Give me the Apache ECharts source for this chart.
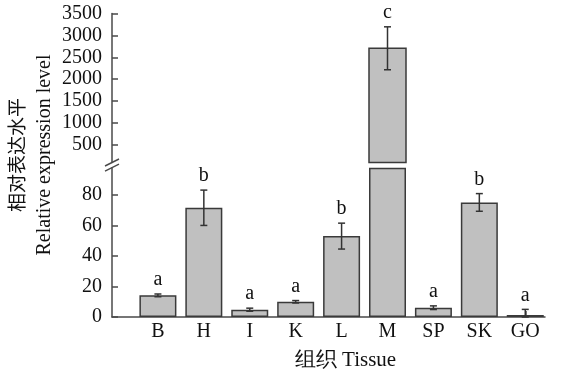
<!DOCTYPE html>
<html>
<head>
<meta charset="utf-8">
<script src="https://cdn.jsdelivr.net/npm/echarts@6/dist/echarts.min.js"></script>
<style>
  html, body { margin: 0; padding: 0; background: #fff; }
  #chart { width: 564px; height: 378px; }
</style>
</head>
<body>
<div id="chart"></div>
<script>
// tissues and mean relative expression
const categories = ['B', 'H', 'I', 'K', 'L', 'M', 'SP', 'SK', 'GO'];
const values = [14.2, 71.7, 4.8, 10.0, 53.1, 2706, 6.1, 75.2, 1.3];
const errors = [0.9, 11.6, 1.0, 0.8, 8.5, 490, 1.2, 5.8, 3.7];
const letters = ['a', 'b', 'a', 'a', 'b', 'c', 'a', 'b', 'a'];
const upperTicks = [500, 1000, 1500, 2000, 2500, 3000, 3500];
const lowerTicks = [0, 20, 40, 60, 80];

// broken y axis: lower part 0..98, upper part 100..3500
const LOW_MAX = 98;
const UP_MIN = 100;
const UP_MAX = 3500;

const AXIS_X = 112;
const GRID_W = 433;
const UP_TOP = 13.5, UP_H = 149;
const LOW_TOP = 167.7, LOW_H = 149.3;
const BAR_W = 37;

const font = '"Liberation Serif", "Times New Roman", serif';
const axisColor = '#4a4a4a';
const barFill = '#c0c0c0';
const barBorder = '#3a3a3a';

const xs = categories.map((c, i) => i + 1);

const chart = echarts.init(document.getElementById('chart'));

function errorItem(params, api) {
  const x = api.value(0);
  const m = api.value(1);
  const e = api.value(2);
  const top = api.coord([x, m + e]);
  const bot = api.coord([x, Math.max(m - e, 0)]);
  const cap = 3.5;
  const style = { stroke: '#333', lineWidth: 1.5 };
  return {
    type: 'group',
    children: [
      { type: 'line', shape: { x1: top[0], y1: top[1], x2: bot[0], y2: bot[1] }, style },
      { type: 'line', shape: { x1: top[0] - cap, y1: top[1], x2: top[0] + cap, y2: top[1] }, style },
      { type: 'line', shape: { x1: bot[0] - cap, y1: bot[1], x2: bot[0] + cap, y2: bot[1] }, style },
      {
        type: 'text',
        x: top[0], y: top[1] - 14,
        style: {
          text: letters[x - 1], fill: '#111', font: '20px ' + font,
          align: 'center', verticalAlign: 'middle'
        }
      }
    ]
  };
}

// upper segment of a broken bar: from the break (UP_MIN) to the value
function upperBar(params, api) {
  const x = api.value(0);
  const lo = api.coord([x, UP_MIN]);
  const hi = api.coord([x, api.value(1)]);
  return {
    type: 'rect',
    shape: { x: lo[0] - BAR_W / 2, y: hi[1], width: BAR_W, height: lo[1] - hi[1] },
    style: { fill: barFill, stroke: barBorder, lineWidth: 1.5 }
  };
}

const isUpper = i => values[i] > LOW_MAX;

const baseX = {
  type: 'value', min: 0, max: 9.43,
  splitLine: { show: false }
};

const tickLabel = { margin: 10, color: '#111', fontSize: 20, fontFamily: font, formatter: v => String(v) };

const option = {
  animation: false,
  backgroundColor: '#fff',
  grid: [
    { left: AXIS_X, top: UP_TOP, width: GRID_W, height: UP_H },
    { left: AXIS_X, top: LOW_TOP, width: GRID_W, height: LOW_H }
  ],
  xAxis: [
    { ...baseX, gridIndex: 0, show: false },
    {
      ...baseX, gridIndex: 1,
      axisLine: { show: true, lineStyle: { color: axisColor, width: 1.5 } },
      axisTick: { show: true, inside: true, length: 6, customValues: xs, lineStyle: { color: axisColor, width: 1.5 } },
      axisLabel: {
        customValues: xs, margin: 5, color: '#111', fontSize: 20, fontFamily: font,
        formatter: v => categories[v - 1]
      },
      name: '组织 Tissue',
      nameLocation: 'middle',
      nameGap: 33,
      nameTextStyle: { color: '#111', fontSize: 21, fontFamily: font, padding: [0, 0, 0, 34] }
    }
  ],
  yAxis: [
    {
      type: 'value', gridIndex: 0, min: UP_MIN, max: UP_MAX,
      splitLine: { show: false },
      axisLine: { show: true, lineStyle: { color: axisColor, width: 1.5 } },
      axisTick: { show: true, inside: true, length: 6, customValues: upperTicks, lineStyle: { color: axisColor, width: 1.5 } },
      axisLabel: { ...tickLabel, customValues: upperTicks }
    },
    {
      type: 'value', gridIndex: 1, min: 0, max: LOW_MAX,
      splitLine: { show: false },
      axisLine: { show: true, lineStyle: { color: axisColor, width: 1.5 } },
      axisTick: { show: true, inside: true, length: 6, customValues: lowerTicks, lineStyle: { color: axisColor, width: 1.5 } },
      axisLabel: { ...tickLabel, customValues: lowerTicks }
    }
  ],
  series: [
    {
      type: 'bar', xAxisIndex: 1, yAxisIndex: 1, barWidth: BAR_W, clip: false,
      itemStyle: { color: barFill, borderColor: barBorder, borderWidth: 1.5 },
      data: xs.map((x, i) => [x, Math.min(values[i], LOW_MAX)])
    },
    {
      type: 'custom', xAxisIndex: 0, yAxisIndex: 0, clip: false,
      renderItem: upperBar,
      data: xs.filter((x, i) => isUpper(i)).map(x => [x, values[x - 1]])
    },
    {
      type: 'custom', xAxisIndex: 1, yAxisIndex: 1, clip: false, z: 5,
      renderItem: errorItem,
      data: xs.filter((x, i) => !isUpper(i)).map(x => [x, values[x - 1], errors[x - 1]])
    },
    {
      type: 'custom', xAxisIndex: 0, yAxisIndex: 0, clip: false, z: 5,
      renderItem: errorItem,
      data: xs.filter((x, i) => isUpper(i)).map(x => [x, values[x - 1], errors[x - 1]])
    }
  ],
  graphic: [
    // axis break marks
    {
      type: 'line', z: 10,
      shape: { x1: AXIS_X - 7, y1: UP_TOP + UP_H + 3.5, x2: AXIS_X + 7, y2: UP_TOP + UP_H - 3.5 },
      style: { stroke: axisColor, lineWidth: 1.5 }
    },
    {
      type: 'line', z: 10,
      shape: { x1: AXIS_X - 7, y1: LOW_TOP + 3.5, x2: AXIS_X + 7, y2: LOW_TOP - 3.5 },
      style: { stroke: axisColor, lineWidth: 1.5 }
    },
    {
      type: 'text', x: 17, y: 155, rotation: Math.PI / 2,
      style: { text: '相对表达水平', fill: '#111', font: '19px "Noto Sans CJK SC", sans-serif', align: 'center', verticalAlign: 'middle' }
    },
    {
      type: 'text', x: 45, y: 155, rotation: Math.PI / 2,
      style: { text: 'Relative expression level', fill: '#111', font: '20px ' + font, align: 'center', verticalAlign: 'middle' }
    }
  ]
};

chart.setOption(option);
</script>
</body>
</html>
